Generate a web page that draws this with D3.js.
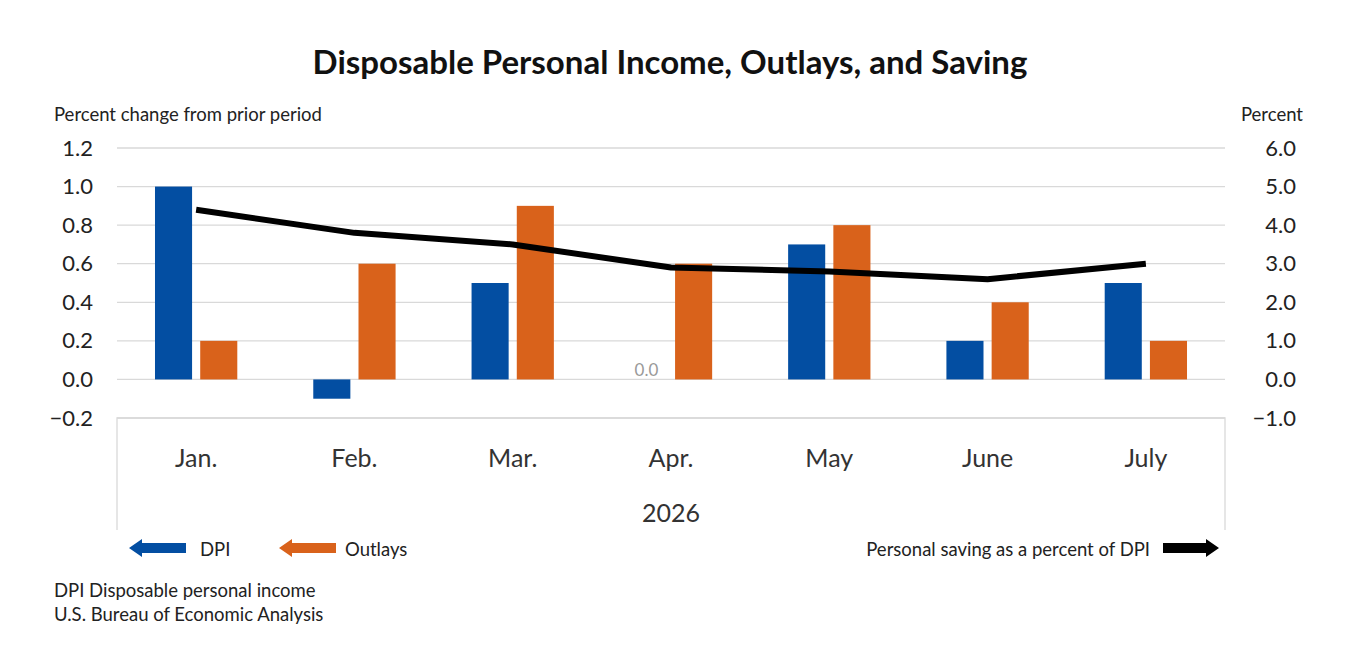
<!DOCTYPE html>
<meta charset="utf-8">
<script src="https://d3js.org/d3.v7.min.js"></script>
<style>
  body { margin: 0; background: #fff; }
  text { font-family: Lato, "Open Sans", sans-serif; }
</style>
<div id="chart"></div>
<script>
  // data
  const months = ["Jan.", "Feb.", "Mar.", "Apr.", "May", "June", "July"];
  const dpi = [1.0, -0.1, 0.5, 0.0, 0.7, 0.2, 0.5];
  const outlays = [0.2, 0.6, 0.9, 0.6, 0.8, 0.4, 0.2];
  const saving = [4.4, 3.8, 3.5, 2.9, 2.8, 2.6, 3.0];
  const leftTicks = [-0.2, 0.0, 0.2, 0.4, 0.6, 0.8, 1.0, 1.2];
  const rightTicks = [-1, 0, 1, 2, 3, 4, 5, 6];
  const seriesNames = ["DPI", "Outlays"];
  const colors = { DPI: "#034ea2", Outlays: "#d9621b" };

  const W = 1346, H = 650;
  const plotL = 117, plotR = 1225, plotT = 148, plotB = 418;

  const svg = d3.select("#chart").append("svg")
    .attr("width", W).attr("height", H);

  const x0 = d3.scaleBand().domain(months).range([plotL, plotR])
    .paddingInner(0.48).paddingOuter(0.24);
  const x1 = d3.scaleBand().domain(seriesNames).range([0, x0.bandwidth()]).paddingInner(0.18);
  const y = d3.scaleLinear().domain([-0.2, 1.2]).range([plotB, plotT]);
  const y2 = d3.scaleLinear().domain([-1, 6]).range([plotB, plotT]);
  const center = m => x0(m) + x0.bandwidth() / 2;

  // title
  svg.append("text")
    .attr("x", 670).attr("y", 74)
    .attr("text-anchor", "middle")
    .style("font-size", "33px").style("font-weight", "bold").style("fill", "#111")
    .text("Disposable Personal Income, Outlays, and Saving");

  svg.append("text").attr("x", 54).attr("y", 121)
    .style("font-size", "18.5px").style("fill", "#222")
    .text("Percent change from prior period");
  svg.append("text").attr("x", 1303).attr("y", 121)
    .attr("text-anchor", "end")
    .style("font-size", "18.5px").style("fill", "#222")
    .text("Percent");

  // gridlines
  svg.append("g").selectAll("line").data(leftTicks).join("line")
    .attr("x1", plotL).attr("x2", plotR)
    .attr("y1", d => y(d)).attr("y2", d => y(d))
    .attr("stroke", "#d9d9d9").attr("stroke-width", 1.3);

  // category box below the plot
  svg.append("path")
    .attr("d", `M${plotL},530V${plotB}H${plotR}V530`)
    .attr("fill", "none").attr("stroke", "#d9d9d9").attr("stroke-width", 1.3);

  const fmt = d => d < 0 ? "\u2212" + Math.abs(d).toFixed(1) : d.toFixed(1);

  // left axis
  const yAxis = svg.append("g")
    .attr("transform", "translate(93,0)")
    .call(d3.axisLeft(y).tickValues(leftTicks).tickSize(0).tickPadding(0).tickFormat(fmt));
  yAxis.select(".domain").remove();
  yAxis.selectAll("text").style("font-size", "22px").style("fill", "#222")
    .style("font-family", "Lato, sans-serif");

  // right axis
  const y2Axis = svg.append("g")
    .attr("transform", "translate(1296,0)")
    .call(d3.axisLeft(y2).tickValues(rightTicks).tickSize(0).tickPadding(0).tickFormat(fmt));
  y2Axis.select(".domain").remove();
  y2Axis.selectAll("text").style("font-size", "22px").style("fill", "#222")
    .style("font-family", "Lato, sans-serif");

  // month labels
  const xAxis = svg.append("g")
    .attr("transform", `translate(0,${plotB})`)
    .call(d3.axisBottom(x0).tickSize(0).tickPadding(31));
  xAxis.select(".domain").remove();
  xAxis.selectAll("text").style("font-size", "25px").style("fill", "#333")
    .style("font-family", "Lato, sans-serif");

  svg.append("text").attr("x", (plotL + plotR) / 2).attr("y", 522)
    .attr("text-anchor", "middle")
    .style("font-size", "25px").style("fill", "#333")
    .text("2026");

  // bars
  const rows = months.map((m, i) => ({ month: m, DPI: dpi[i], Outlays: outlays[i] }));
  svg.append("g").selectAll("g").data(rows).join("g")
    .attr("transform", d => `translate(${x0(d.month)},0)`)
    .selectAll("rect")
    .data(d => seriesNames.map(k => ({ key: k, value: d[k] })))
    .join("rect")
    .attr("x", d => x1(d.key))
    .attr("width", x1.bandwidth())
    .attr("y", d => y(Math.max(0, d.value)))
    .attr("height", d => Math.abs(y(d.value) - y(0)))
    .attr("fill", d => colors[d.key]);

  // zero label for April DPI
  svg.append("text")
    .attr("x", x0("Apr.") + x1("DPI") + x1.bandwidth() / 2 - 2)
    .attr("y", y(0) - 3)
    .attr("text-anchor", "middle")
    .style("font-size", "17px").style("fill", "#999")
    .text("0.0");

  // saving line
  const line = d3.line()
    .x((d, i) => center(months[i]))
    .y(d => y2(d));
  svg.append("path")
    .datum(saving)
    .attr("d", line)
    .attr("fill", "none").attr("stroke", "#000")
    .attr("stroke-width", 6).attr("stroke-linejoin", "round");

  // legend arrows
  function arrow(x, yc, len, dir, color) {
    // dir -1 points left, 1 points right
    const head = 13, sh = 5, hh = 9;
    const tip = dir < 0 ? x : x + len;
    const tail = dir < 0 ? x + len : x;
    const base = tip - dir * head;
    svg.append("path")
      .attr("d", `M${tip},${yc}L${base},${yc - hh}L${base},${yc - sh}L${tail},${yc - sh}` +
        `L${tail},${yc + sh}L${base},${yc + sh}L${base},${yc + hh}Z`)
      .attr("fill", color);
  }
  arrow(129, 548, 57, -1, colors.DPI);
  arrow(279, 548, 57, -1, colors.Outlays);
  arrow(1163, 548, 56, 1, "#000");

  svg.append("text").attr("x", 200).attr("y", 556)
    .style("font-size", "18.5px").style("fill", "#222").text("DPI");
  svg.append("text").attr("x", 345).attr("y", 556)
    .style("font-size", "18.5px").style("fill", "#222").text("Outlays");
  svg.append("text").attr("x", 1150).attr("y", 556)
    .attr("text-anchor", "end")
    .style("font-size", "18.5px").style("fill", "#222").text("Personal saving as a percent of DPI");

  svg.append("text").attr("x", 54).attr("y", 597)
    .style("font-size", "18.5px").style("fill", "#222").text("DPI Disposable personal income");
  svg.append("text").attr("x", 54).attr("y", 621)
    .style("font-size", "18.5px").style("fill", "#222").text("U.S. Bureau of Economic Analysis");
</script>
